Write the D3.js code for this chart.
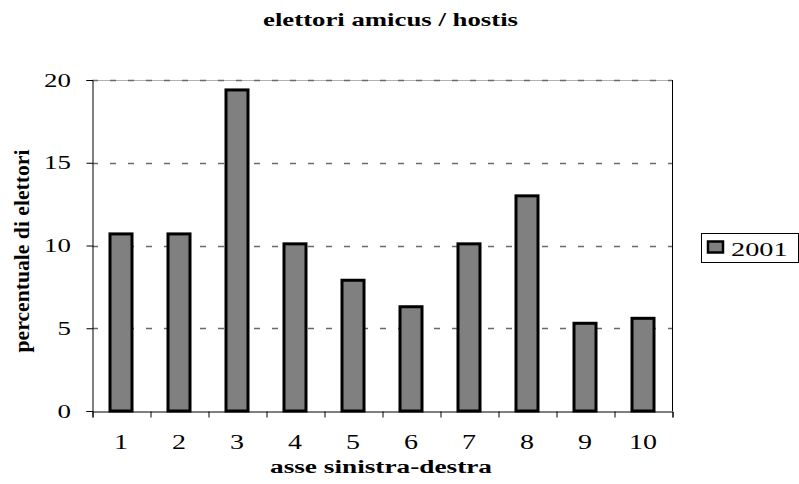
<!DOCTYPE html>
<html>
<head>
<meta charset="utf-8">
<script src="https://cdn.jsdelivr.net/npm/d3@7"></script>
<style>
  html, body { margin: 0; padding: 0; background: #fff; }
  svg { display: block; }
  svg text { font-family: "Liberation Serif", "Times New Roman", Times, serif; fill: #000; }
</style>
</head>
<body>
<svg id="chart" width="799" height="484"></svg>
<script>
// Data
const categories = ["1", "2", "3", "4", "5", "6", "7", "8", "9", "10"];
const values2001 = [10.7, 10.7, 19.4, 10.1, 7.9, 6.3, 10.1, 13.0, 5.3, 5.6];
const yTicks = [0, 5, 10, 15, 20];
const seriesName = "2001";
const titleText = "elettori amicus / hostis";
const yTitleText = "percentuale di elettori";
const xTitleText = "asse sinistra-destra";

const svg = d3.select("#chart");
const plot = { left: 92, right: 672, top: 80, bottom: 411 };
const serif = '"Liberation Serif", "Times New Roman", Times, serif';

const x = d3.scaleBand().domain(categories).range([plot.left, plot.right]).padding(0);
const y = d3.scaleLinear().domain([0, 20]).range([plot.bottom, plot.top]);

// Horizontally widened text: placed at (px, py), then stretched by sx
function wideText(g, str, px, py, opts) {
  return g.append("text")
    .attr("transform", `translate(${px},${py})` + (opts.rotate ? ` rotate(${opts.rotate})` : "") + ` scale(${opts.sx || 1},1)`)
    .attr("text-anchor", opts.anchor || "middle")
    .attr("font-family", serif)
    .style("font-size", opts.size + "px")
    .style("font-weight", opts.bold ? "bold" : "normal")
    .text(str);
}

// Bold title text fitted to a given length
function fittedTitle(str, px, py, size, len, rotate) {
  return svg.append("text")
    .attr("transform", `translate(${px},${py})` + (rotate ? ` rotate(${rotate})` : ""))
    .attr("text-anchor", "middle")
    .attr("font-family", serif)
    .style("font-size", size + "px")
    .style("font-weight", "bold")
    .attr("textLength", len)
    .attr("lengthAdjust", "spacingAndGlyphs")
    .text(str);
}

// Plot area frame
svg.append("line").attr("x1", plot.left).attr("x2", plot.right)
  .attr("y1", plot.top + 0.5).attr("y2", plot.top + 0.5)
  .attr("stroke", "#b0b0b0").attr("stroke-width", 1);
svg.append("line").attr("x1", plot.right + 0.5).attr("x2", plot.right + 0.5)
  .attr("y1", plot.top).attr("y2", plot.bottom)
  .attr("stroke", "#000").attr("stroke-width", 1);

// Dashed gridlines
svg.append("g").selectAll("line").data(yTicks.filter(d => d > 0)).join("line")
  .attr("x1", plot.left).attr("x2", plot.right)
  .attr("y1", d => Math.round(y(d)) + 0.5).attr("y2", d => Math.round(y(d)) + 0.5)
  .attr("stroke", "#6a6a6a").attr("stroke-width", 1.3)
  .attr("stroke-dasharray", "6,12");

// Bars
const barW = 22;
svg.append("g").selectAll("rect").data(values2001).join("rect")
  .attr("x", (d, i) => x(categories[i]) + x.bandwidth() / 2 - barW / 2)
  .attr("y", d => y(d))
  .attr("width", barW)
  .attr("height", d => y(0) - y(d))
  .attr("fill", "#808080")
  .attr("stroke", "#000")
  .attr("stroke-width", 3);

// Y axis
const yAxis = d3.axisLeft(y).tickValues(yTicks).tickSize(6).tickFormat("");
const gy = svg.append("g").attr("transform", `translate(${plot.left + 0.5},0)`).call(yAxis);
gy.select(".domain").attr("stroke", "#000");
gy.selectAll(".tick line").attr("stroke", "#000");
const yLab = svg.append("g");
yTicks.forEach(v => {
  wideText(yLab, String(v), 71, y(v) + 6.5, { size: 19.5, sx: 1.38, anchor: "end" });
});

// X axis with ticks at category boundaries
const xb = d3.scaleLinear().domain([0, categories.length]).range([plot.left, plot.right]);
const xAxis = d3.axisBottom(xb).tickValues(d3.range(0, categories.length + 1)).tickSize(6).tickFormat("");
const gx = svg.append("g").attr("transform", `translate(0.5,${plot.bottom + 0.5})`).call(xAxis);
gx.select(".domain").attr("stroke", "#000");
gx.selectAll(".tick line").attr("stroke", "#000");
const xLab = svg.append("g");
categories.forEach(c => {
  wideText(xLab, c, x(c) + x.bandwidth() / 2, 449, { size: 20, sx: 1.4, anchor: "middle" });
});

// Titles
fittedTitle(titleText, 390.5, 26, 18.5, 255);
fittedTitle(xTitleText, 381, 473, 18.5, 222);
fittedTitle(yTitleText, 29, 251, 20, 203, -90);

// Legend
const lg = svg.append("g");
lg.append("rect").attr("x", 701.5).attr("y", 233.5).attr("width", 97).attr("height", 29)
  .attr("fill", "#fff").attr("stroke", "#000").attr("stroke-width", 1);
lg.append("rect").attr("x", 708).attr("y", 241.5).attr("width", 15).attr("height", 11)
  .attr("fill", "#808080").attr("stroke", "#000").attr("stroke-width", 2.5);
wideText(lg, seriesName, 731, 256, { size: 19.5, sx: 1.45, anchor: "start" });
</script>
</body>
</html>
